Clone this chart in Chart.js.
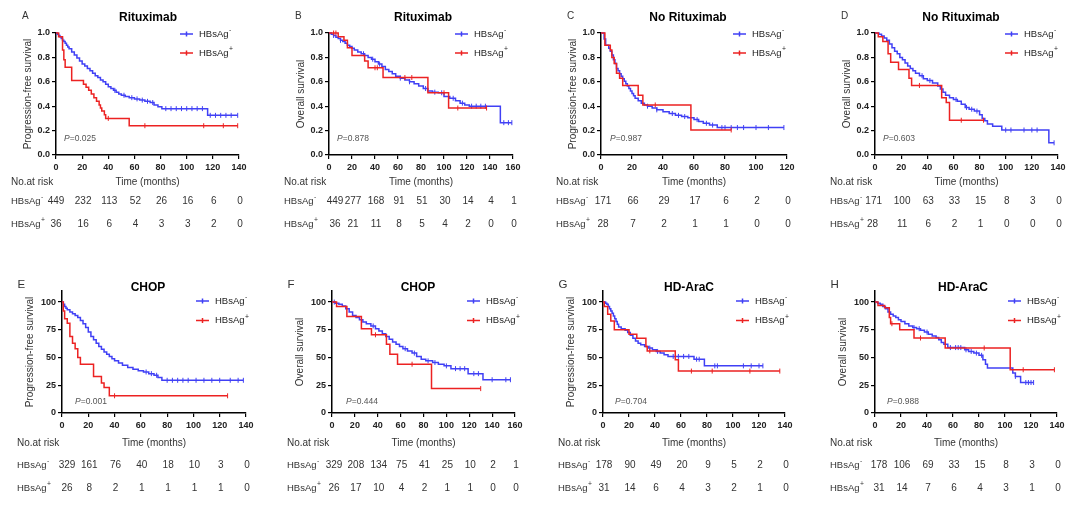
<!DOCTYPE html>
<html>
<head>
<meta charset="utf-8">
<script src="https://cdn.jsdelivr.net/npm/chart.js@4.4.1/dist/chart.umd.min.js"></script>
<style>
  body { margin: 0; background: #fff; }
  #wrap { position: relative; width: 1072px; height: 507px; overflow: hidden; }
  #wrap canvas { position: absolute; }
</style>
</head>
<body>
<div id="wrap"></div>
<script>
// ---- panel text ----
const letters = ['A', 'B', 'C', 'D', 'E', 'F', 'G', 'H'];
const titles = ['Rituximab', 'Rituximab', 'No Rituximab', 'No Rituximab', 'CHOP', 'CHOP', 'HD-AraC', 'HD-AraC'];
const yTitles = ['Progression-free survival', 'Overall survival', 'Progression-free survival', 'Overall survival',
                 'Progression-free survival', 'Overall survival', 'Progression-free survival', 'Overall survival'];
const pValues = ['0.025', '0.878', '0.987', '0.603', '0.001', '0.444', '0.704', '0.988'];
const xMaxes = [140, 160, 120, 140, 140, 160, 140, 140];
const yTicksTop = [0, 0.2, 0.4, 0.6, 0.8, 1.0];
const yTicksBottom = [0, 25, 50, 75, 100];

// ---- A: PFS, Rituximab ----
const aNegT = [0, 1, 2, 3, 4, 5, 6, 7, 8, 9, 10, 12, 14, 16, 18, 20, 22, 24, 26, 28, 30, 32, 34, 36, 38, 40, 42, 44, 46, 48, 50, 53, 56, 60, 64, 68, 72, 75, 78, 81, 116, 139];
const aNegS = [1, 0.99, 0.98, 0.97, 0.955, 0.94, 0.93, 0.915, 0.90, 0.885, 0.87, 0.845, 0.82, 0.795, 0.77, 0.745, 0.73, 0.71, 0.69, 0.67, 0.65, 0.635, 0.615, 0.60, 0.58, 0.56, 0.545, 0.53, 0.515, 0.50, 0.49, 0.48, 0.47, 0.46, 0.45, 0.44, 0.43, 0.41, 0.395, 0.38, 0.325, 0.325];
const aNegC = [45, 52, 58, 62, 66, 70, 74, 84, 88, 92, 96, 100, 104, 108, 112, 118, 122, 126, 130, 134, 139];
const aPosT = [0, 2, 5, 6, 7, 12, 21, 23, 25, 27, 29, 31, 33, 34, 35, 37, 38, 56, 139];
const aPosS = [1, 0.97, 0.86, 0.78, 0.72, 0.61, 0.58, 0.555, 0.53, 0.50, 0.47, 0.44, 0.41, 0.385, 0.36, 0.33, 0.30, 0.24, 0.24];
const aPosC = [40, 68, 113, 128, 139];
const aRiskNeg = [449, 232, 113, 52, 26, 16, 6, 0];
const aRiskPos = [36, 16, 6, 4, 3, 3, 2, 0];

// ---- B: OS, Rituximab ----
const bNegT = [0, 2, 4, 6, 8, 10, 12, 14, 16, 18, 20, 22, 25, 28, 31, 34, 37, 40, 43, 46, 49, 52, 55, 58, 62, 66, 70, 74, 78, 82, 86, 90, 95, 100, 105, 110, 114, 118, 122, 149, 159];
const bNegS = [1, 0.99, 0.98, 0.965, 0.955, 0.94, 0.93, 0.915, 0.90, 0.89, 0.875, 0.86, 0.845, 0.83, 0.815, 0.80, 0.785, 0.765, 0.745, 0.725, 0.70, 0.685, 0.665, 0.645, 0.63, 0.615, 0.60, 0.585, 0.565, 0.545, 0.525, 0.515, 0.51, 0.48, 0.465, 0.445, 0.425, 0.41, 0.40, 0.265, 0.265];
const bNegC = [4, 10, 30, 38, 44, 62, 70, 84, 92, 98, 108, 116, 124, 128, 132, 136, 152, 156, 159];
const bPosT = [0, 8, 13, 16, 20, 31, 34, 47, 86, 104, 137];
const bPosS = [1, 0.97, 0.94, 0.88, 0.815, 0.77, 0.715, 0.635, 0.51, 0.385, 0.385];
const bPosC = [4, 6, 40, 42, 66, 72, 100, 112, 137];
const bRiskNeg = [449, 277, 168, 91, 51, 30, 14, 4, 1];
const bRiskPos = [36, 21, 11, 8, 5, 4, 2, 0, 0];

// ---- C: PFS, No Rituximab ----
const cNegT = [0, 2, 3, 5, 6, 7, 8, 9, 10, 11, 12, 13, 14, 15, 16, 17, 18, 19, 20, 21, 22, 24, 26, 28, 30, 33, 36, 40, 44, 48, 52, 56, 60, 63, 66, 70, 75, 118];
const cNegS = [1, 0.95, 0.90, 0.875, 0.85, 0.82, 0.78, 0.75, 0.71, 0.69, 0.665, 0.645, 0.625, 0.605, 0.585, 0.565, 0.545, 0.525, 0.505, 0.485, 0.465, 0.445, 0.425, 0.41, 0.40, 0.385, 0.37, 0.355, 0.34, 0.325, 0.315, 0.305, 0.29, 0.275, 0.26, 0.245, 0.225, 0.225];
const cNegC = [30, 36, 46, 50, 54, 62, 68, 72, 78, 80, 84, 88, 92, 100, 108, 118];
const cPosT = [0, 2.5, 6, 7, 8.5, 10, 12, 14, 24, 27, 58, 84];
const cPosS = [1, 0.90, 0.86, 0.80, 0.75, 0.67, 0.63, 0.57, 0.49, 0.41, 0.205, 0.205];
const cPosC = [35, 84];
const cRiskNeg = [171, 66, 29, 17, 6, 2, 0];
const cRiskPos = [28, 7, 2, 1, 1, 0, 0];

// ---- D: OS, No Rituximab ----
const dNegT = [0, 3, 5, 7, 9, 11, 13, 15, 17, 19, 21, 23, 25, 27, 29, 31, 34, 37, 40, 44, 48, 50, 52, 54, 57, 60, 63, 66, 69, 72, 76, 80, 82, 84, 86, 90, 97, 133, 137];
const dNegS = [1, 0.99, 0.975, 0.96, 0.94, 0.91, 0.88, 0.85, 0.83, 0.80, 0.78, 0.755, 0.73, 0.71, 0.69, 0.67, 0.65, 0.625, 0.61, 0.59, 0.565, 0.54, 0.515, 0.49, 0.47, 0.455, 0.44, 0.415, 0.39, 0.375, 0.36, 0.33, 0.30, 0.28, 0.255, 0.235, 0.205, 0.10, 0.10];
const dNegC = [36, 42, 62, 70, 74, 78, 100, 104, 114, 120, 124, 137];
const dPosT = [0, 2.5, 6, 10, 12, 18, 26, 28, 51, 54.5, 57, 83];
const dPosS = [1, 0.97, 0.93, 0.83, 0.76, 0.70, 0.63, 0.57, 0.47, 0.43, 0.285, 0.285];
const dPosC = [34, 66, 83];
const dRiskNeg = [171, 100, 63, 33, 15, 8, 3, 0];
const dRiskPos = [28, 11, 6, 2, 1, 0, 0, 0];

// ---- E: PFS, CHOP ----
const eNegT = [0, 1, 2, 3, 4, 6, 8, 10, 12, 14, 16, 18, 20, 22, 24, 26, 28, 30, 32, 34, 36, 38, 40, 43, 46, 50, 54, 58, 62, 66, 70, 73, 76, 138];
const eNegS = [100, 98, 96, 94.5, 93, 91, 89.5, 88, 86, 83.5, 80.5, 77, 73, 69, 66, 63, 60, 57.5, 55, 53, 51, 49, 47, 45, 43, 41, 39.5, 38, 37, 35.5, 34, 32, 29.5, 29.5];
const eNegC = [64, 68, 72, 80, 84, 88, 92, 96, 102, 108, 114, 120, 128, 134, 138];
const ePosT = [0, 1, 2, 4, 6, 8, 10, 12, 14, 24, 30, 32, 36, 126];
const ePosS = [100, 92, 85, 81, 69, 63, 58, 50, 44, 33, 27, 23, 15.5, 15.5];
const ePosC = [40, 126];
const eRiskNeg = [329, 161, 76, 40, 18, 10, 3, 0];
const eRiskPos = [26, 8, 2, 1, 1, 1, 1, 0];

// ---- F: OS, CHOP ----
const fNegT = [0, 3, 6, 9, 12, 15, 18, 21, 24, 27, 30, 34, 38, 41, 44, 47, 50, 53, 56, 59, 62, 66, 70, 74, 78, 82, 88, 93, 98, 104, 119, 132, 156];
const fNegS = [100, 99, 98, 96.5, 94, 91, 88, 86, 84, 82, 80.5, 78.5, 76, 74, 71.5, 69, 66.5, 64, 62, 60, 58, 56, 54, 51, 48.5, 47, 45.5, 44, 42.5, 40, 35.5, 30, 30];
const fNegC = [2, 36, 64, 72, 84, 90, 100, 108, 112, 116, 124, 128, 140, 152, 156];
const fPosT = [0, 4, 13, 25.7, 34.5, 47.6, 50.6, 57.3, 87, 130];
const fPosS = [100, 96, 87, 76, 70.5, 62, 53, 44, 22, 22];
const fPosC = [38, 70, 130];
const fRiskNeg = [329, 208, 134, 75, 41, 25, 10, 2, 1];
const fRiskPos = [26, 17, 10, 4, 2, 1, 1, 0, 0];

// ---- G: PFS, HD-AraC ----
const gNegT = [0, 2, 3, 4, 5, 6, 7, 8, 9, 10, 11, 12, 14, 17, 19, 21, 23, 25, 27, 29, 32, 35, 38, 41, 44, 47, 50, 70, 78, 123];
const gNegS = [100, 99, 98, 96, 94, 92, 90, 87.5, 85, 82.5, 80, 77.5, 76, 74.5, 72.5, 70, 67.5, 65, 63, 61.5, 60, 58.5, 57, 55.5, 54, 52.5, 51, 48.5, 42.5, 42.5];
const gNegC = [36, 42, 54, 58, 62, 66, 72, 74, 86, 88, 108, 114, 120, 123];
const gPosT = [0, 1, 3.6, 6, 8.7, 20, 26, 33, 34, 55.6, 58, 136];
const gPosS = [100, 96, 89, 83, 75, 71, 67.5, 60, 56, 48, 37.8, 37.8];
const gPosC = [36, 68, 84, 113, 136];
const gRiskNeg = [178, 90, 49, 20, 9, 5, 2, 0];
const gRiskPos = [31, 14, 6, 4, 3, 2, 1, 0];

// ---- H: OS, HD-AraC ----
const hNegT = [0, 2, 4, 6, 8, 10, 12, 14, 16, 18, 20, 23, 26, 29, 32, 35, 38, 41, 44, 47, 49, 51, 53, 56, 69, 72, 76, 80, 83, 85, 86.5, 106, 108, 112, 122];
const hNegS = [100, 99, 98, 96, 94, 91, 89, 87.5, 86, 84, 82.5, 80.5, 78.5, 77, 76, 74.5, 73, 71, 69.5, 68, 66, 63.5, 62, 59, 57, 55.5, 54, 52, 48, 44, 40.5, 36, 33, 27.5, 27.5];
const hNegC = [30, 34, 40, 58, 62, 64, 66, 70, 74, 78, 82, 108, 116, 118, 120, 122];
const hPosT = [0, 2.3, 7.4, 11, 12, 19, 30, 54, 104, 138];
const hPosS = [100, 97, 95, 86, 80.5, 75, 67.6, 58.6, 39, 39];
const hPosC = [13, 35, 84, 114, 138];
const hRiskNeg = [178, 106, 69, 33, 15, 8, 3, 0];
const hRiskPos = [31, 14, 7, 6, 4, 3, 1, 0];

const curves = [
  [aNegT, aNegS, aNegC, aPosT, aPosS, aPosC],
  [bNegT, bNegS, bNegC, bPosT, bPosS, bPosC],
  [cNegT, cNegS, cNegC, cPosT, cPosS, cPosC],
  [dNegT, dNegS, dNegC, dPosT, dPosS, dPosC],
  [eNegT, eNegS, eNegC, ePosT, ePosS, ePosC],
  [fNegT, fNegS, fNegC, fPosT, fPosS, fPosC],
  [gNegT, gNegS, gNegC, gPosT, gPosS, gPosC],
  [hNegT, hNegS, hNegC, hPosT, hPosS, hPosC]
];
const risks = [
  [aRiskNeg, aRiskPos], [bRiskNeg, bRiskPos], [cRiskNeg, cRiskPos], [dRiskNeg, dRiskPos],
  [eRiskNeg, eRiskPos], [fRiskNeg, fRiskPos], [gRiskNeg, gRiskPos], [hRiskNeg, hRiskPos]
];

// ---- layout (px inside each panel canvas) ----
const FONT = '"Liberation Sans", Arial, sans-serif';
const BLUE = 'rgb(64,64,245)';
const RED = 'rgb(236,34,34)';
const PW = 268;
const boxes = [[56, 239, 33, 155], [61, 245, 33, 155], [65, 251, 33, 155], [71, 254, 33, 155],
               [62, 246, 41, 163], [64, 247, 41, 163], [67, 249, 41, 163], [71, 253, 41, 163]];
const titleXs = [148, 155, 152, 157, 148, 150, 153, 159];
const legendXs = [180, 187, 197, 201, 196, 199, 200, 204];
const firstColXs = [56, 67, 67, 65, 67, 66, 68, 75];
const pOffsets = [8, 8, 9, 8, 13, 14, 12, 12];
const rowY = {
  top: { h: 250, letter: 16, title: 18, leg: [34, 53], p: 139, xt: 182, r1: 201, r2: 224, yto: 28, lo: 34 },
  bot: { h: 257, letter: 35, title: 38, leg: [51, 70.5], p: 151.5, xt: 193, r1: 215, r2: 238, yto: 31.5, lo: 44.5 }
};

function stepAt(t, s, x) {
  let v = s[0];
  for (let i = 0; i < t.length; i++) if (t[i] <= x) v = s[i];
  return v;
}

function supText(ctx, x, y, base, sup, size) {
  ctx.font = size + 'px ' + FONT;
  ctx.textAlign = 'left';
  ctx.fillText(base, x, y);
  const w = ctx.measureText(base).width;
  ctx.font = (size * 0.72) + 'px ' + FONT;
  ctx.fillText(sup, x + w + 0.5, y - size * 0.4);
  return w + 0.5 + ctx.measureText(sup).width;
}

function decor(i) {
  const L = i < 4 ? rowY.top : rowY.bot;
  return {
    id: 'decor' + i,
    afterDraw(chart) {
      const ctx = chart.ctx, a = chart.chartArea, xs = chart.scales.x;
      ctx.save();
      ctx.textBaseline = 'middle';

      // panel letter
      ctx.fillStyle = '#333';
      ctx.font = (i < 4 ? 10 : 11.5) + 'px ' + FONT;
      ctx.textAlign = 'left';
      ctx.fillText(letters[i], a.left - L.lo, L.letter);

      // title
      ctx.fillStyle = '#000';
      ctx.font = 'bold 12px ' + FONT;
      ctx.textAlign = 'center';
      ctx.fillText(titles[i], titleXs[i], L.title);

      // y-axis title
      ctx.save();
      ctx.translate(a.left - L.yto, (a.top + a.bottom) / 2);
      ctx.rotate(-Math.PI / 2);
      ctx.fillStyle = '#333';
      ctx.font = '10px ' + FONT;
      ctx.fillText(yTitles[i], 0, 0);
      ctx.restore();

      // P value
      ctx.fillStyle = '#555';
      ctx.textAlign = 'left';
      ctx.font = 'italic 8.5px ' + FONT;
      const px = a.left + pOffsets[i];
      ctx.fillText('P', px, L.p);
      const pw = ctx.measureText('P').width;
      ctx.font = '8.5px ' + FONT;
      ctx.fillText('=' + pValues[i], px + pw, L.p);

      // legend
      [[BLUE, '-'], [RED, '+']].forEach(([col, sign], k) => {
        const lx = legendXs[i], ly = L.leg[k];
        ctx.strokeStyle = col;
        ctx.lineWidth = 1.5;
        ctx.beginPath();
        ctx.moveTo(lx, ly); ctx.lineTo(lx + 13, ly);
        ctx.moveTo(lx + 6.5, ly - 2.5); ctx.lineTo(lx + 6.5, ly + 2.5);
        ctx.stroke();
        ctx.fillStyle = '#222';
        supText(ctx, lx + 19, ly, 'HBsAg', sign, 9.5);
      });

      // x-axis title and risk table
      ctx.fillStyle = '#333';
      ctx.font = '10px ' + FONT;
      ctx.textAlign = 'center';
      ctx.fillText('Time (months)', (a.left + a.right) / 2, L.xt);
      ctx.textAlign = 'left';
      ctx.fillText('No.at risk', a.left - 45, L.xt);
      [[risks[i][0], '-', L.r1], [risks[i][1], '+', L.r2]].forEach(([vals, sign, ry]) => {
        ctx.fillStyle = '#333';
        const labelEnd = a.left - 45 + supText(ctx, a.left - 45, ry, 'HBsAg', sign, 9.5);
        ctx.font = '10px ' + FONT;
        ctx.textAlign = 'center';
        vals.forEach((v, j) => {
          let x = xs.getPixelForValue(j * 20) + 1;
          if (j === 0) {
            const half = ctx.measureText(String(v)).width / 2;
            x = Math.max(firstColXs[i], labelEnd + 3 + half);
          }
          ctx.fillText(String(v), x, ry);
        });
      });
      ctx.restore();
    }
  };
}

Chart.defaults.font.family = FONT;
const wrap = document.getElementById('wrap');

letters.forEach((letter, i) => {
  const top = i < 4;
  const L = top ? rowY.top : rowY.bot;
  const box = boxes[i];
  const cv = document.createElement('canvas');
  cv.width = PW; cv.height = L.h;
  cv.style.left = (i % 4) * PW + 'px';
  cv.style.top = (top ? 0 : 250) + 'px';
  wrap.appendChild(cv);

  const [nT, nS, nC, pT, pS, pC] = curves[i];
  const pts = (t, s) => t.map((x, k) => ({ x, y: s[k] }));
  const cens = (t, s, c) => c.map(x => ({ x, y: stepAt(t, s, x) }));
  const lineDs = (data, col) => ({ data, borderColor: col, borderWidth: 1.5, stepped: true, pointRadius: 0, fill: false, clip: false });
  const censDs = (data, col) => ({ data, showLine: false, borderColor: col, pointStyle: 'line', rotation: 90,
                                   pointRadius: 2.5, pointBorderWidth: 1, borderWidth: 1, clip: false });

  const XH = 22;
  new Chart(cv, {
    type: 'line',
    data: {
      datasets: [
        lineDs(pts(pT, pS), RED), censDs(cens(pT, pS, pC), RED),
        lineDs(pts(nT, nS), BLUE), censDs(cens(nT, nS, nC), BLUE)
      ]
    },
    options: {
      responsive: false,
      animation: false,
      events: [],
      layout: { padding: { left: 0, top: box[2], right: PW - box[1], bottom: L.h - box[3] - XH } },
      plugins: { legend: { display: false }, tooltip: { enabled: false } },
      scales: {
        x: {
          type: 'linear', min: 0, max: xMaxes[i],
          afterFit: s => { s.height = XH; },
          ticks: { stepSize: 20, autoSkip: false, maxRotation: 0, padding: 3, color: '#222',
                   font: { size: 9, weight: 'bold' } },
          grid: { drawOnChartArea: false, color: '#000', lineWidth: 1.2, tickLength: 4 },
          border: { color: '#000', width: 1.5 }
        },
        y: {
          type: 'linear', min: 0, max: top ? 1.0 : 110,
          afterFit: s => { s.width = box[0]; },
          afterBuildTicks: s => { s.ticks = (top ? yTicksTop : yTicksBottom).map(v => ({ value: v })); },
          ticks: { padding: 2, color: '#222', font: { size: 9, weight: 'bold' },
                   callback: v => top ? Number(v).toFixed(1) : v },
          grid: { drawOnChartArea: false, color: '#000', lineWidth: 1.2, tickLength: 4 },
          border: { color: '#000', width: 1.5 }
        }
      }
    },
    plugins: [decor(i)]
  });
});
</script>
</body>
</html>
